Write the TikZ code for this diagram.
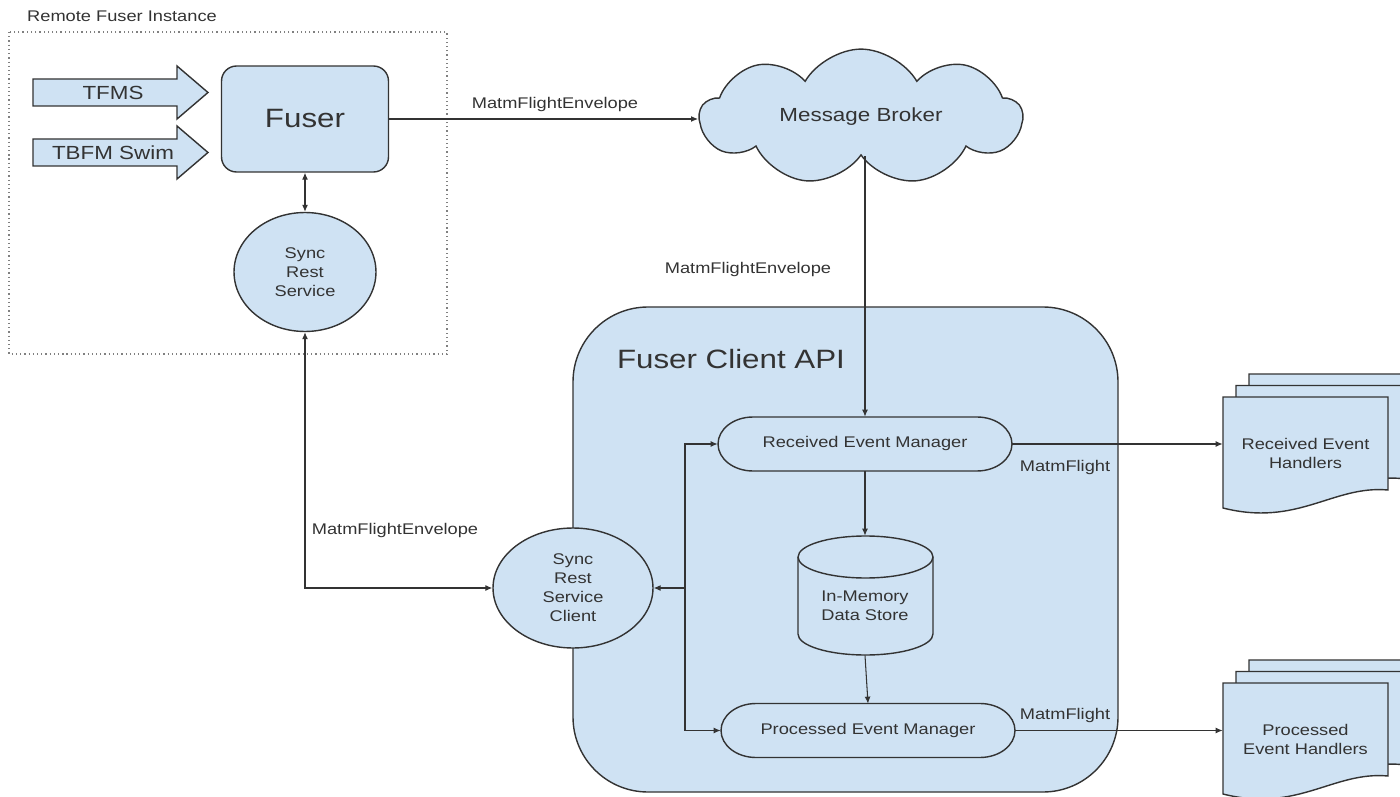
\documentclass[tikz,border=0pt]{standalone}
\usepackage{fontspec}
\setmainfont{Liberation Sans}
\usepackage{graphicx}
\usepackage{tikz}
\usetikzlibrary{arrows.meta, shapes.geometric, shapes.symbols}
\usepackage{xcolor}

\definecolor{boxblue}{HTML}{CFE2F3}
\definecolor{inkgray}{HTML}{333333}
\newcommand{\wtxt}[1]{\scalebox{1.18}[1]{#1}}
% stadium shaped manager box, centre given
\newcommand{\stadium}[2]{\filldraw[shapeline] (#1-112,#2-27) -- (#1+112,#2-27) arc[start angle=90,end angle=-90,x radius=0.7cm,y radius=0.54cm] -- (#1-112,#2+27) arc[start angle=270,end angle=90,x radius=0.7cm,y radius=0.54cm] -- cycle;}
% one page of a document stack, top left corner given
\newcommand{\docpage}[2]{\filldraw[shapeline] (#1,#2) -- (#1+165,#2) -- (#1+165,#2+93) .. controls (#1+110,#2+88) and (#1+75,#2+130) .. (#1,#2+111) -- cycle;}

\begin{document}
\begin{tikzpicture}[x=0.02cm, y=-0.02cm,
    line/.style={draw=inkgray, line width=0.6pt},
    flow/.style={line, -{Latex[length=4pt,width=3.4pt]}},
    both/.style={line, {Latex[length=4pt,width=3.4pt]}-{Latex[length=4pt,width=3.4pt]}},
    shapeline/.style={draw=inkgray, line width=0.8pt, fill=boxblue},
    smalltext/.style={font=\fontsize{8.8}{10.8}\selectfont, text=inkgray, inner sep=0pt, align=center},
    midtext/.style={font=\fontsize{10.8}{13}\selectfont, text=inkgray, inner sep=0pt},
    bigtext/.style={font=\fontsize{15.1}{18}\selectfont, text=inkgray, inner sep=0pt}]
     \useasboundingbox (0,0) rectangle (1400,797);
     \clip (0,0) rectangle (1400,797);

     % remote fuser instance
     \draw[draw=gray, dash pattern=on 0.7pt off 1.7pt, line width=0.7pt] (9,32) rectangle (447,354);
     \node[smalltext] (caption) at (122,16) {\wtxt{Remote Fuser Instance}};
     \foreach \ty/\src in {92.5/TFMS, 152.5/TBFM Swim}{
        \filldraw[shapeline] (33,\ty-13.5) -- (177,\ty-13.5) -- (177,\ty-26.5) -- (208,\ty) -- (177,\ty+26.5) -- (177,\ty+13.5) -- (33,\ty+13.5) -- cycle;
        \node[midtext] at (113,\ty) {\wtxt{\src}};
     }
     \node[shapeline, bigtext, rounded corners=0.3cm, minimum width=3.34cm, minimum height=2.12cm] (fuser) at (305,119) {\wtxt{Fuser}};
     \node[shapeline, smalltext, ellipse, minimum width=2.84cm, minimum height=2.38cm] (srs) at (305,272) {\wtxt{Sync}\\\wtxt{Rest}\\\wtxt{Service}};

     % broker
     \node[shapeline, midtext, cloud, cloud puffs=9, cloud puff arc=120, aspect=2.4, minimum width=6.44cm, minimum height=2.5cm] (broker) at (861,117) {\wtxt{Message Broker}};

     % fuser client api
     \draw[shapeline, rounded corners=1.5cm] (573,307) rectangle (1118,792);
     \node[bigtext] (api) at (731,359) {\wtxt{Fuser Client API}};
     \stadium{865}{444}
     \node[smalltext, minimum width=5.88cm, minimum height=1.08cm] (rem) at (865,444) {\wtxt{Received Event Manager}};
     \stadium{868}{730.5}
     \node[smalltext, minimum width=5.88cm, minimum height=1.06cm] (pem) at (868,730.5) {\wtxt{Processed Event Manager}};
     \filldraw[shapeline] (798,557) -- (798,634) arc[start angle=180,end angle=360,x radius=1.35cm,y radius=0.42cm] -- (933,557) arc[start angle=0,end angle=180,x radius=1.35cm,y radius=0.42cm] -- cycle;
     \draw[shapeline, fill=none] (798,557) arc[start angle=180,end angle=360,x radius=1.35cm,y radius=0.42cm];
     \node[minimum width=2.7cm, minimum height=2.38cm, inner sep=0pt] (store) at (865,595.5) {};
     \node[smalltext] (storetxt) at (865,606) {\wtxt{In-Memory}\\\wtxt{Data Store}};
     \node[shapeline, smalltext, ellipse, minimum width=3.2cm, minimum height=2.4cm] (client) at (573,588) {\wtxt{Sync}\\\wtxt{Rest}\\\wtxt{Service}\\\wtxt{Client}};

     % event handlers
     \docpage{1249}{374} \docpage{1236}{385.5} \docpage{1223}{397}
     \node[smalltext, minimum width=3.3cm, minimum height=2.22cm] (rh) at (1305.5,453) {\wtxt{Received Event}\\\wtxt{Handlers}};
     \docpage{1249}{660} \docpage{1236}{671.5} \docpage{1223}{683}
     \node[smalltext, minimum width=3.3cm, minimum height=2.22cm] (ph) at (1305.5,739) {\wtxt{Processed}\\\wtxt{Event Handlers}};

     % connectors
     \draw[flow] (fuser.east) -- (fuser.east -| broker.west);
     \node[smalltext] at (555,105) {\wtxt{MatmFlightEnvelope}};
     \draw[both] (fuser.south) -- (srs.north);
     \draw[both] (srs.south) |- (client.west);
     \node[smalltext] at (395,530) {\wtxt{MatmFlightEnvelope}};
     \draw[flow] (broker.south -| rem.north) -- (rem.north);
     \node[smalltext] at (748,270) {\wtxt{MatmFlightEnvelope}};
     \draw[flow] (rem.south) -- (store.north);
     \draw[flow] (store.south) -- (pem.north);
     \coordinate (fork) at (685,588);
     \draw[flow] (fork) -- (client.east);
     \draw[flow] (fork) |- (rem.west);
     \draw[flow] (fork) |- (pem.west);
     \draw[flow] (rem.east) -- (rem.east -| rh.west);
     \node[smalltext] at (1065,468) {\wtxt{MatmFlight}};
     \draw[flow] (pem.east) -- (pem.east -| ph.west);
     \node[smalltext] at (1065,715) {\wtxt{MatmFlight}};
\end{tikzpicture}
\end{document}
